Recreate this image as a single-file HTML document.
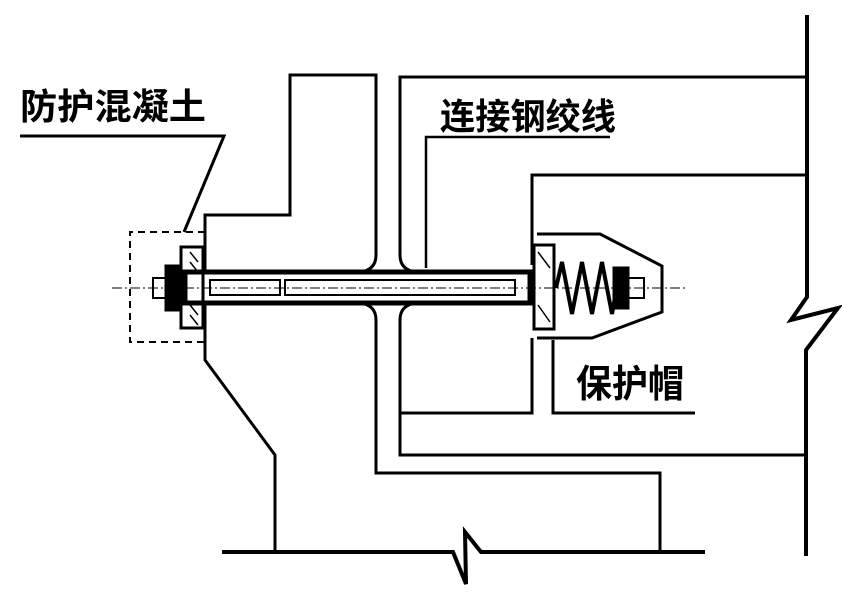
<!DOCTYPE html>
<html><head><meta charset="utf-8"><style>
html,body{margin:0;padding:0;background:#fff;}
svg{display:block;}
text{font-family:"Liberation Sans","Noto Sans CJK SC","WenQuanYi Zen Hei",sans-serif;font-weight:bold;fill:#000;}
</style></head><body>
<svg width="842" height="597" viewBox="0 0 842 597" xmlns="http://www.w3.org/2000/svg">
<g fill="none" stroke="#000" stroke-width="3" stroke-linejoin="miter">
<path d="M376,255 L376,75 L290,75 L290,215 L205,215 L205,272"/>
<path d="M205,303 L205,360 L275,455 L275,550"/>
<path d="M376,255 Q376,270 360,272"/>
<path d="M360,303 Q376,305 376,320 L376,473 L660,473 L660,552"/>
<path d="M400,255 L400,77 L807,77"/>
<path d="M400,255 Q400,270 416,272"/>
<path d="M416,303 Q400,305 400,320 L400,455 L807,455"/>
<path d="M532,265 L532,175 L807,175"/>
<path d="M532,338 L532,413 L400,413"/>
<path d="M553,340 L553,413 L695,413"/>
<path d="M807,15 L807,297 L791,320 L838,308 L806,350 L806,556" stroke-width="4"/>
<path d="M222,552 L453,552 L466,584 L465,532 L481,552 L705,552" stroke-width="4"/>
<path d="M20,136 L224,136 L184,232" stroke-width="3"/>
<path d="M610,137 L426,137 L426,268" stroke-width="2.5"/>
<path d="M205,232 L130,232 L130,342 L205,342" stroke-dasharray="7,5" stroke-width="2"/>
<path d="M112,288 L685,288" stroke-width="1" stroke-dasharray="10,3,2,3"/>
<rect x="185" y="272" width="345" height="31" stroke-width="5"/>
<rect x="210" y="280" width="70" height="15" stroke-width="2"/>
<rect x="285" y="280" width="230" height="15" stroke-width="2"/>
<rect x="181" y="247" width="22" height="81" stroke-width="3"/>
<path d="M190,252 L198,262 M190,262 L198,272 M190,305 L198,315 M190,315 L198,325" stroke-width="1.5"/>
<rect x="166" y="266" width="15" height="44" fill="#000"/>
<rect x="153" y="278" width="14" height="20" stroke-width="2"/>
<rect x="534" y="245" width="20" height="84" stroke-width="3"/>
<path d="M538,252 L550,268 M538,305 L550,322" stroke-width="1.5"/>
<path d="M537,234 L600,234 L662,266 L662,312 L592,338 L537,338" stroke-width="3"/>
<path d="M556,288 L562,262 L572,314 L582,262 L592,314 L602,262 L612,314 L620,270" stroke-width="4"/>
<rect x="614" y="268" width="14" height="40" fill="#000"/>
<rect x="628" y="278" width="16" height="20" stroke-width="2"/>
</g>
<text x="20" y="119" font-size="36" textLength="186" lengthAdjust="spacingAndGlyphs">防护混凝土</text>
<text x="440" y="129" font-size="36" textLength="176" lengthAdjust="spacingAndGlyphs">连接钢绞线</text>
<text x="576" y="397" font-size="38" textLength="108" lengthAdjust="spacingAndGlyphs">保护帽</text>
</svg>
</body></html>
